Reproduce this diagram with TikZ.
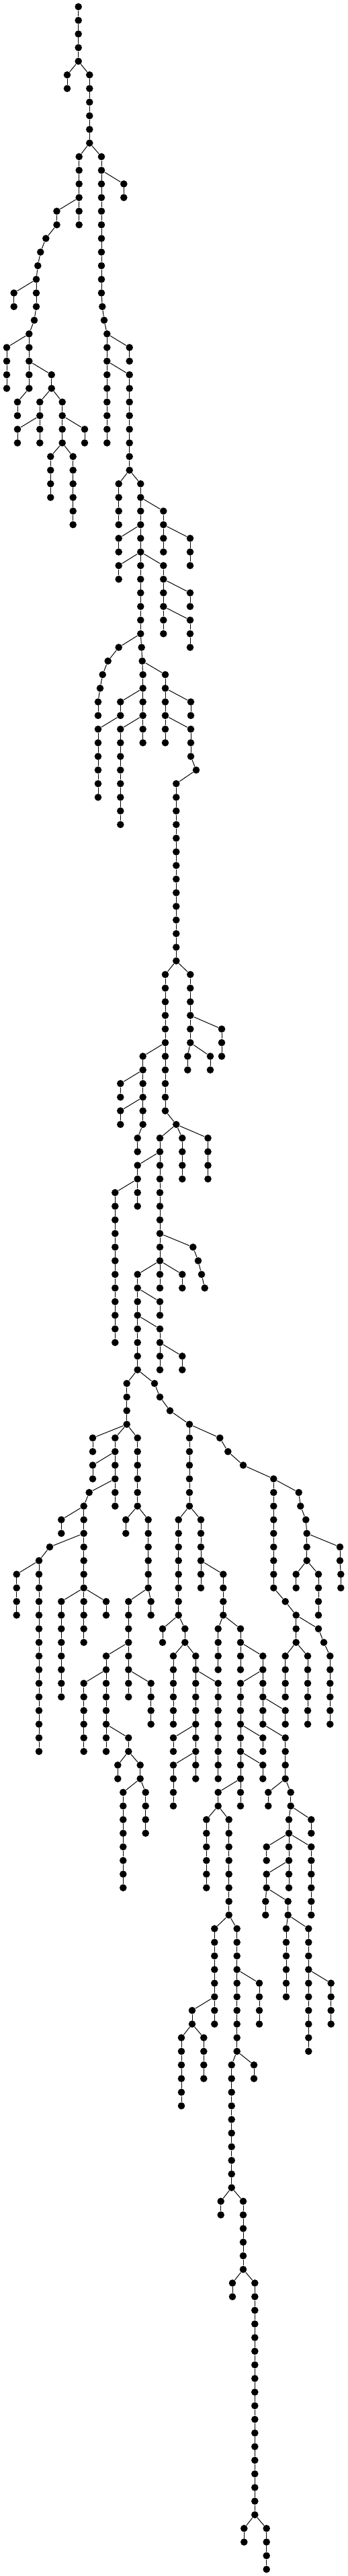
\documentclass[tikz,border=0pt]{standalone}
\tikzset{dot/.style={circle,fill=black,inner sep=0pt,minimum size=10.6pt}}
% chains: name/x/first level/last level/parent
\def\chains{a/100/5/6/r4, b/133.3/5/10/r4, c/117.7/11/16/b10,
d/151/11/21/b10, d/152.3/22/22/d21, d/155/23/23/d22, d/159.3/24/32/d23,
e/184.3/13/14/d12, f/84.5/15/16/c14, f/68.3/17/17/f16, f/60.3/18/18/f17,
f/56.3/19/19/f18, f/54/20/22/f19, f/51/23/23/f22, f/43.3/24/28/f23,
g/20.7/21/22/f20, h/10/25/28/f24, i/76.7/27/28/f26, j/26/29/30/f28,
k/59.3/29/32/i28, l/92.7/29/32/i28, m/26/31/32/k30, n/126/31/32/l30,
o/75.3/33/36/l32, p/108.7/33/38/l32, q/192.7/25/26/d24, s/192.7/27/34/d26,
t/176.7/35/38/s34, u/209.3/35/46/s34, u/210.7/47/47/u46, u/211.7/48/48/u47,
u/212.7/49/54/u48, v/243.3/37/40/u36, w/176.7/39/40/u38, x/176.7/41/42/u40,
y/243.3/41/46/u40, z/176.7/47/47/u46, z/160.7/48/48/z47, z/152.7/49/49/z48,
z/149/50/50/z49, z/146/51/52/z50, ba/246/49/54/u48, bb/179.3/51/52/u50,
bc/146/53/58/bb52, bd/179.3/53/60/u52,
be/283/39/41/v38, bg/283/43/44/y42, bh/283/45/47/y44,
bi/284/51/52/ba50, bj/284/53/55/ba52, bj/292/56/56/bj55,
ca/262.3/57/70/bj56,
cb/246/71/81/ca70, cb/262.3/82/82/cb81, cc/283.3/71/76/ca70, cc/279.3/77/78/cc76,
bk/330/75/77/cc74, bl/313/77/78/cc76,
cd/212.7/77/82/cb76, cd/204.7/83/84/cd82, ce/179.3/79/80/cd78, cf/179.3/81/82/cd80,
cg/238/83/94/cb82, ch/271.3/83/86/cb82, ci/309.5/83/86/cb82,
cj/204.7/85/88/cg84, ck/171.3/87/98/cj86,
cl/287.3/91/91/cg90, cl/295/92/92/cl91, cl/300/93/93/cl92, cl/304.7/94/94/cl93,
cm/204.7/93/100/cg92, cn/271.3/93/94/cg92, co/238/95/96/cm94, cp/238/97/100/cm96,
cq/271.3/99/100/cp98, cr/188.7/101/104/cm100, cs/230/101/101/cm100,
cs/238/102/102/cs101, cs/253/103/103/cs102, cs/282/104/110/cs103,
ct/138/105/106/cr104, cu/171.3/105/110/cr104, cv/204.7/105/110/cr104,
cw/138/107/108/cu106, cx/132.7/109/109/cu108, cx/124.7/110/120/cx109,
cy/327.3/105/105/cs104, cy/339.3/106/106/cy105, cy/362/107/107/cy106,
cy/407.3/108/116/cy107, cy/424.7/117/117/cy116, cy/440.7/118/120/cy117,
cz/444.7/109/109/cy108, cz/447.3/110/110/cz109, cz/455.3/111/111/cz110,
cz/456.7/112/114/cz111, da/506/113/114/cz112, da/507.3/115/116/da114,
db/440.7/115/116/cz114, dc/474/115/118/cz114,
dd/91.3/111/112/cx110, de/74/113/113/cx112, de/58/114/128/de113,
df/24.7/115/118/de114, dg/91.3/117/124/cx116, dh/158/117/118/cx116,
di/187.3/111/112/cv110, dj/220.7/111/116/cv110, dk/191.3/117/124/dj116,
dl/224.7/117/118/dj116, dm/158/121/128/dk120, dn/224.7/123/126/dk122,
do/124.7/123/128/dm122, dp/191.3/127/128/dm126, dq/175.3/129/130/dp128,
dr/208.7/129/130/dp128, ds/183.3/131/138/dr130, dt/216.7/131/134/dr130,
du/265.7/111/118/cs110, dv/299/111/116/cs110, dw/242/119/120/du118,
dx/275.3/119/120/du118, dy/258/121/126/dx120, dz/291.3/121/130/dx120,
ea/324.7/123/130/dz122, eb/258/127/128/dz126, ec/258/129/132/dz128,
ed/332.3/115/118/dv114, ee/324.7/119/122/ed118, ef/358/119/122/ed118,
eg/391.3/121/126/ef120, eh/358/123/132/eg122, ei/424.7/125/126/eg124,
ej/424.7/127/130/eg126, ek/391.3/127/128/eh126, el/391.3/129/130/eh128,
em/324.7/131/132/eh130, en/307.3/133/138/em132, eo/340.7/133/140/em132,
ep/319.3/141/148/eo140, eq/352.7/141/150/eo140, er/286/147/148/ep146,
es/270/149/154/er148, et/303.3/149/152/er148, eu/386/145/148/eq144,
ev/344.7/151/160/eq150, ew/378/151/152/eq150, ex/328.7/161/162/ev160,
ey/362/161/166/ev160, ez/346/167/168/ey166, fa/379.3/167/184/ey166,
fb/363.3/185/186/fa184, fc/396.7/185/188/fa184,
fd/399.3/131/132/ej130, fe/432.7/131/132/ej130, ff/430/133/138/fe132,
fg/463.3/133/134/fe132, fh/396.7/135/136/ff134, fi/463.3/135/140/ff134,
fj/396.7/137/138/ff136, fj/395.3/139/140/fj138, fk/428.7/139/140/fj138,
fl/426/141/146/fk140, fm/459.3/141/150/fk140, fn/492.7/145/148/fm144,
fo/424.7/121/124/cy120, fp/458/121/126/cy120, fq/474/119/119/cy118,
fq/482/120/120/fq119, fq/491.3/121/126/fq120}
\begin{document}
\begin{tikzpicture}[x=1pt,y=-20.266pt,line width=1pt]
	\useasboundingbox (0,-0.4934) rectangle (518,188.4934);
	
	% root chain
	\foreach \l in {0,...,4}
		\node[dot] (r\l) at (116.7,\l) {};
	\draw (r0) -- (r1) -- (r2) -- (r3) -- (r4);
	
	% all other chains
	\foreach \cn/\cx/\cf/\ct/\cp in \chains {
		\foreach \l in {\cf,...,\ct}
			\node[dot] (\cn\l) at (\cx,\l) {};
		\draw (\cp) -- (\cn\cf);
		\ifnum\cf<\ct
			\pgfmathtruncatemacro\cg{\cf+1}
			\foreach \l in {\cg,...,\ct} {
				\pgfmathtruncatemacro\pl{\l-1}
				\draw (\cn\pl) -- (\cn\l);
			}
		\fi
	}
	
\end{tikzpicture}
\end{document}
